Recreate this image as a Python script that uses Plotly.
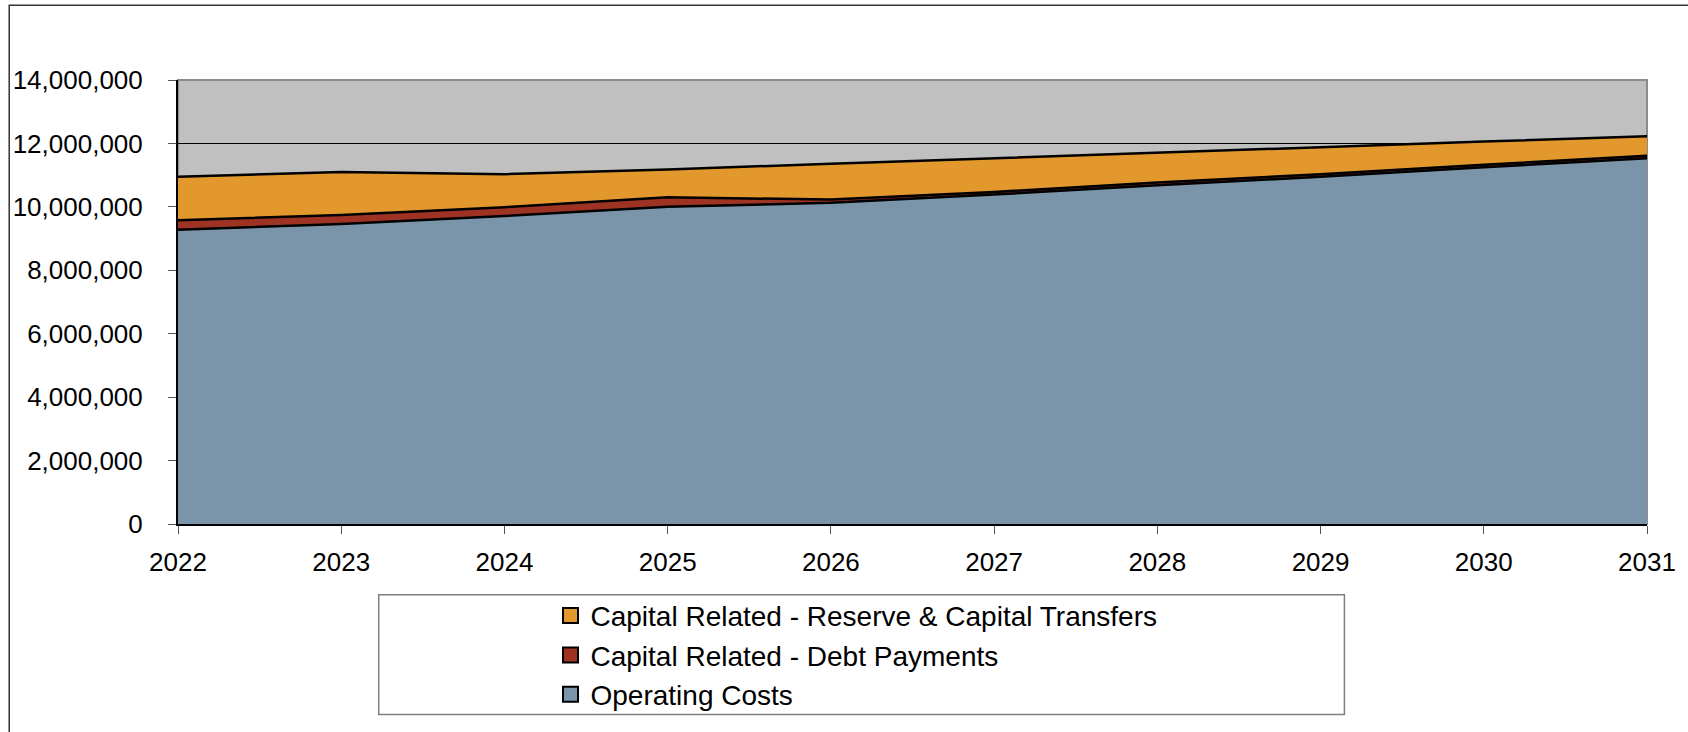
import plotly.graph_objects as go

# ---- data ----
years = [2022, 2023, 2024, 2025, 2026, 2027, 2028, 2029, 2030, 2031]
operating_costs = [9280000, 9460000, 9710000, 10000000, 10130000, 10390000, 10680000, 10950000, 11250000, 11530000]
debt_payments = [300000, 280000, 280000, 300000, 100000, 80000, 90000, 80000, 80000, 80000]
reserve_transfers = [1370000, 1360000, 1040000, 880000, 1130000, 1060000, 920000, 850000, 730000, 620000]

series_names = ["Operating Costs", "Capital Related - Debt Payments", "Capital Related - Reserve & Capital Transfers"]
series_colors = ["#7A95AA", "#9E3324", "#E3982E"]
y_ticks = [0, 2000000, 4000000, 6000000, 8000000, 10000000, 12000000, 14000000]

W, H = 1688, 732
ML, MR, MT, MB = 178, 39, 80, 207
PW, PH = W - ML - MR, H - MT - MB
FONT = "Arial, Liberation Sans, sans-serif"


def px_x(x):
    return (x - ML) / PW


def px_y(y):
    return (H - MB - y) / PH


fig = go.Figure()

for name, vals, col in zip(series_names, [operating_costs, debt_payments, reserve_transfers], series_colors):
    fig.add_trace(go.Scatter(
        x=years, y=vals, name=name, stackgroup="one", mode="lines",
        line=dict(color="black", width=2.5), fillcolor=col, showlegend=False,
        hoverinfo="x+y+name",
    ))

# legend entries (square swatches), top to bottom
for name, col in reversed(list(zip(series_names, series_colors))):
    fig.add_trace(go.Scatter(
        x=[None], y=[None], name=name, mode="markers",
        marker=dict(symbol="square", size=15, color=col, line=dict(color="black", width=2)),
        showlegend=True,
    ))

shapes = [
    # outer chart border (top / left visible)
    dict(type="rect", xref="paper", yref="paper", x0=px_x(9), x1=px_x(W + 20), y0=px_y(H + 20), y1=px_y(5),
         line=dict(color="#333333", width=1.5), fillcolor="rgba(0,0,0,0)", layer="below"),
    # plot-area border
    dict(type="rect", xref="paper", yref="paper", x0=0, x1=1, y0=0, y1=1,
         line=dict(color="#8C8C8C", width=2), fillcolor="rgba(0,0,0,0)", layer="below"),
    # legend box
    dict(type="rect", xref="paper", yref="paper", x0=px_x(379), x1=px_x(1346), y0=px_y(716), y1=px_y(596),
         line=dict(color="#7F7F7F", width=1.5), fillcolor="rgba(0,0,0,0)"),
]

fig.update_layout(
    width=W, height=H,
    margin=dict(l=ML, r=MR, t=MT, b=MB, pad=0),
    paper_bgcolor="white",
    plot_bgcolor="#C0C0C0",
    font=dict(family=FONT, size=26, color="black"),
    showlegend=True,
    legend=dict(
        x=px_x(551), y=px_y(592), xanchor="left", yanchor="top",
        bgcolor="rgba(0,0,0,0)", borderwidth=0,
        font=dict(family=FONT, size=28, color="black"),
        traceorder="normal",
    ),
    shapes=shapes,
    hovermode="x",
)

fig.update_xaxes(
    range=[years[0], years[-1]], tickmode="array", tickvals=years, ticktext=[str(y) for y in years],
    ticks="outside", ticklen=8, tickcolor="#555555", tickwidth=1,
    showline=True, linecolor="black", linewidth=2, mirror=False,
    showgrid=False, zeroline=False, ticklabelstandoff=6,
    tickfont=dict(family=FONT, size=26, color="black"),
)
fig.update_yaxes(
    range=[0, 14000000], tickmode="array", tickvals=y_ticks,
    ticktext=[f"{v:,}" for v in y_ticks],
    ticks="outside", ticklen=8, tickcolor="#555555", tickwidth=1,
    showline=True, linecolor="black", linewidth=2,
    showgrid=True, gridcolor="black", gridwidth=1, zeroline=False,
    ticklabelstandoff=20,
    tickfont=dict(family=FONT, size=26, color="black"),
)

fig.write_html(
    "out.html",
    config={"displayModeBar": False},
    post_script="document.body.style.margin='0';document.body.style.overflow='hidden';",
)
